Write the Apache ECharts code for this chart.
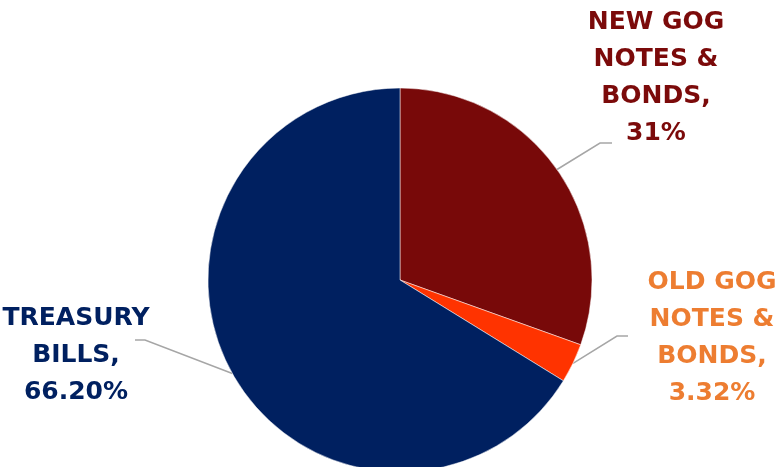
<!DOCTYPE html>
<html><head><meta charset="utf-8">
<script src="https://cdn.jsdelivr.net/npm/echarts@6/dist/echarts.min.js"></script>
<style>html,body{margin:0;padding:0;background:#fff}#c{width:783px;height:467px}</style>
</head><body><div id="c"></div>
<script>
const categories = ['NEW GOG\nNOTES &\nBONDS,', 'OLD GOG\nNOTES &\nBONDS,', 'TREASURY\nBILLS,'];
const values = [30.48, 3.32, 66.20];
const valueLabels = ['31%', '3.32%', '66.20%'];

const sliceColors = ['#780909', '#FF3300', '#002060'];
const labelColors = ['#7B0A0A', '#ED7D31', '#002060'];
// label centre positions and leader elbows (layout only)
const labelPos = [[656, 78], [712, 338], [76, 355]];
const elbows = [[[600, 143], [612, 143]], [[617, 336], [628, 336]], [[145, 340], [135, 340]]];

const chart = echarts.init(document.getElementById('c'), null, {renderer: 'canvas'});
chart.setOption({
  animation: false,
  series: [{
    type: 'pie',
    center: [400, 280],
    radius: 192,
    startAngle: 90,
    clockwise: true,
    avoidLabelOverlap: false,
    itemStyle: {borderColor: '#ffffff', borderWidth: 0.5},
    label: {
      show: true,
      fontFamily: 'DejaVu Sans',
      fontWeight: 'bold',
      fontSize: 25,
      lineHeight: 37,
      align: 'center'
    },
    labelLine: {show: true, lineStyle: {color: '#A6A6A6', width: 1.5}},
    labelLayout: function (p) {
      const i = p.dataIndex;
      const start = p.labelLinePoints ? p.labelLinePoints[0] : null;
      const res = {x: labelPos[i][0], y: labelPos[i][1], align: 'center', verticalAlign: 'middle'};
      if (start) res.labelLinePoints = [start, elbows[i][0], elbows[i][1]];
      return res;
    },
    data: categories.map((c, i) => ({
      name: c,
      value: values[i],
      itemStyle: {color: sliceColors[i]},
      label: {color: labelColors[i], formatter: c + '\n' + valueLabels[i]}
    }))
  }]
});
</script></body></html>
